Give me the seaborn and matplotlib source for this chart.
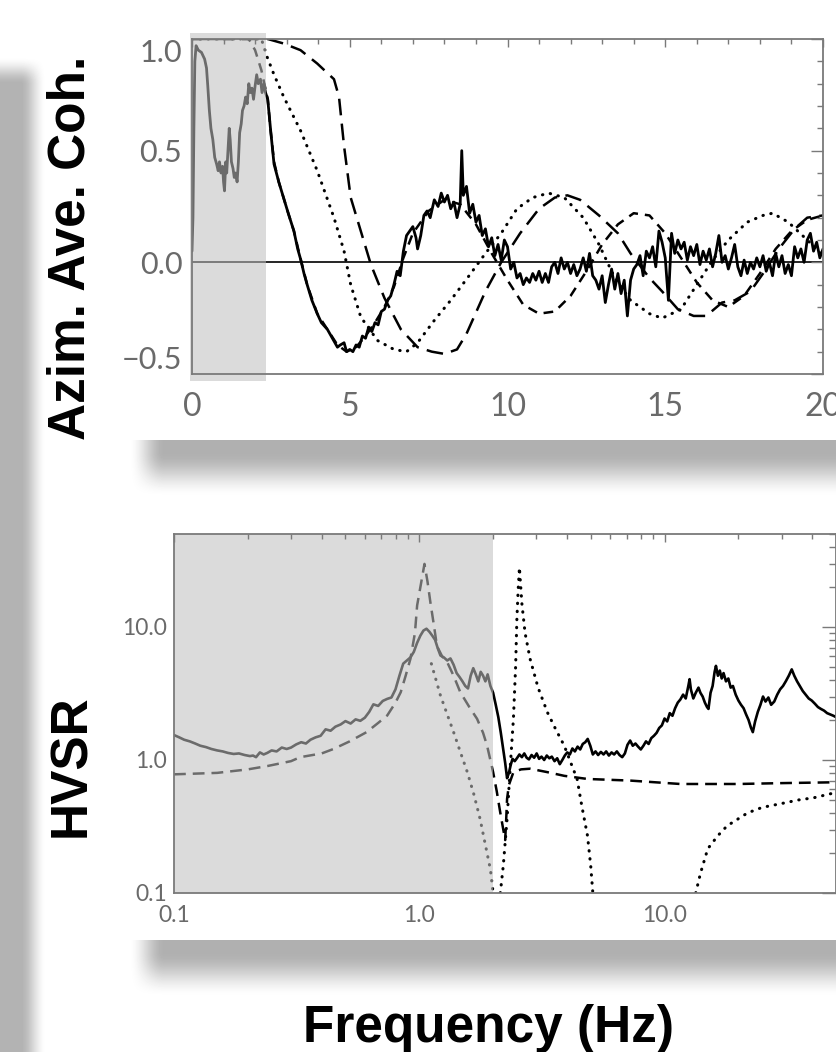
import numpy as np
import pandas as pd
import matplotlib
matplotlib.use('Agg')
import matplotlib.pyplot as plt
import seaborn as sns
from matplotlib import ticker, transforms
from matplotlib.patches import Rectangle

# ---- top panel: azimuthally averaged coherence vs frequency (Hz)
coh_obs_x = [0.00, 0.03, 0.06, 0.09, 0.13, 0.20, 0.30, 0.40, 0.46, 0.50, 0.55, 0.60, 0.66, 0.72,
             0.78, 0.83, 0.87, 0.92, 0.97, 1.00, 1.03, 1.07, 1.10, 1.14, 1.18, 1.21, 1.25, 1.30,
             1.34, 1.38, 1.43, 1.47, 1.51, 1.56, 1.60, 1.65, 1.70, 1.75, 1.80, 1.85, 1.90, 1.95,
             2.00, 2.05, 2.10, 2.17, 2.22, 2.28, 2.33, 2.40, 2.50, 2.60, 2.75, 2.90, 3.05, 3.23,
             3.35, 3.45, 3.55, 3.65, 3.80, 3.97, 4.10, 4.29, 4.45, 4.61, 4.70, 4.82, 4.90, 5.00,
             5.10, 5.20, 5.30, 5.40, 5.50, 5.60, 5.70, 5.80, 5.90, 6.00, 6.10, 6.20, 6.30, 6.40,
             6.50, 6.60, 6.70, 6.80, 6.90, 7.00, 7.10, 7.15, 7.25, 7.35, 7.45, 7.55, 7.68, 7.80,
             7.90, 8.00, 8.10, 8.20, 8.30, 8.40, 8.50, 8.55, 8.60, 8.70, 8.80, 8.90, 9.00, 9.10,
             9.20, 9.30, 9.40, 9.50, 9.60, 9.70, 9.80, 9.90, 10.0, 10.1, 10.2, 10.3, 10.4, 10.5,
             10.6, 10.7, 10.8, 10.9, 11.0, 11.1, 11.2, 11.3, 11.4, 11.5, 11.6, 11.7, 11.8, 11.9,
             12.0, 12.1, 12.2, 12.3, 12.4, 12.5, 12.6, 12.7, 12.8, 12.9, 13.0, 13.1, 13.2, 13.3,
             13.4, 13.5, 13.6, 13.7, 13.8, 13.9, 14.0, 14.1, 14.2, 14.3, 14.4, 14.5, 14.6, 14.7,
             14.8, 14.9, 15.0, 15.1, 15.2, 15.3, 15.4, 15.5, 15.6, 15.7, 15.8, 15.9, 16.0, 16.1,
             16.2, 16.3, 16.4, 16.5, 16.6, 16.7, 16.8, 16.9, 17.0, 17.1, 17.2, 17.3, 17.4, 17.5,
             17.6, 17.7, 17.8, 17.9, 18.0, 18.1, 18.2, 18.3, 18.4, 18.5, 18.6, 18.7, 18.8, 18.9,
             19.0, 19.1, 19.2, 19.3, 19.4, 19.5, 19.6, 19.7, 19.8, 19.9, 20.0]
coh_obs_y = [0.05, 0.20, 0.60, 0.90, 0.97, 0.95, 0.94, 0.91, 0.87, 0.79, 0.68, 0.60, 0.55, 0.47,
             0.44, 0.41, 0.45, 0.40, 0.43, 0.36, 0.32, 0.45, 0.40, 0.50, 0.60, 0.55, 0.45, 0.42,
             0.38, 0.40, 0.36, 0.45, 0.58, 0.62, 0.68, 0.70, 0.74, 0.71, 0.80, 0.76, 0.78, 0.73,
             0.79, 0.84, 0.80, 0.82, 0.76, 0.80, 0.76, 0.73, 0.58, 0.44, 0.36, 0.29, 0.22, 0.14,
             0.06, 0.01, -0.05, -0.10, -0.17, -0.23, -0.27, -0.30, -0.34, -0.38, -0.37, -0.36, -0.40, -0.39,
             -0.40, -0.37, -0.38, -0.33, -0.34, -0.29, -0.31, -0.27, -0.28, -0.22, -0.21, -0.17, -0.15, -0.10,
             -0.04, -0.06, 0.05, 0.12, 0.14, 0.16, 0.11, 0.06, 0.12, 0.21, 0.23, 0.20, 0.28, 0.25,
             0.31, 0.27, 0.30, 0.24, 0.27, 0.20, 0.26, 0.50, 0.30, 0.34, 0.22, 0.26, 0.18, 0.21,
             0.12, 0.15, 0.07, 0.11, 0.03, 0.08, 0.01, 0.10, 0.07, -0.03, 0.00, -0.07, -0.05, -0.10,
             -0.07, -0.09, -0.05, -0.08, -0.04, -0.09, -0.05, -0.09, -0.02, 0.00, -0.05, 0.02, -0.03, 0.00,
             -0.05, -0.01, -0.06, -0.03, 0.02, -0.04, 0.04, -0.06, -0.08, -0.12, -0.06, -0.18, -0.10, -0.03,
             -0.12, -0.05, -0.14, -0.08, -0.24, -0.08, -0.03, -0.01, 0.03, -0.06, 0.05, 0.02, 0.07, -0.02,
             0.14, 0.09, 0.02, -0.17, 0.13, 0.04, 0.10, 0.06, 0.09, 0.01, 0.07, 0.03, 0.08, -0.01,
             0.05, 0.01, 0.06, -0.02, 0.04, 0.12, 0.00, 0.03, -0.03, 0.02, 0.08, -0.02, -0.06, 0.01,
             -0.05, 0.00, -0.03, 0.02, -0.02, 0.03, -0.04, 0.00, -0.06, 0.04, -0.02, 0.03, -0.05, -0.01,
             -0.06, 0.07, 0.02, 0.06, 0.00, 0.10, 0.13, 0.05, 0.09, 0.02, 0.06]

coh_dot_x = [0.0, 1.0, 2.2, 2.38, 2.6, 2.91, 3.44, 3.97, 4.5, 4.82, 5.03, 5.35, 5.88, 6.4, 6.8,
             7.15, 7.68, 8.2, 8.73, 9.3, 9.8, 10.3, 10.8, 11.3, 11.8, 12.4, 12.9, 13.4, 13.9,
             14.5, 14.9, 15.5, 16.0, 16.5, 17.0, 17.6, 18.1, 18.4, 18.9, 19.5, 20.0]
coh_dot_y = [1.0, 1.0, 1.0, 0.92, 0.84, 0.74, 0.59, 0.41, 0.20, 0.05, -0.10, -0.245, -0.35, -0.39, -0.40,
             -0.36, -0.26, -0.17, -0.07, 0.04, 0.13, 0.24, 0.29, 0.31, 0.29, 0.20, 0.08, -0.07, -0.17,
             -0.23, -0.25, -0.21, -0.10, 0.01, 0.10, 0.18, 0.21, 0.22, 0.18, 0.10, 0.03]

coh_long_x = [0.0, 1.2, 2.4, 2.9, 3.44, 3.97, 4.5, 4.66, 4.82, 5.03, 5.35, 5.67, 6.1, 6.62, 7.15,
              7.6, 8.0, 8.4, 8.7, 9.3, 9.8, 10.4, 11.0, 11.5, 11.9, 12.3, 12.9, 13.5, 13.9, 14.5,
              14.9, 15.4, 15.9, 16.3, 16.8, 17.2, 17.7, 18.1, 18.6, 19.1, 19.5, 20.0]
coh_long_y = [1.0, 1.0, 1.0, 0.98, 0.95, 0.89, 0.82, 0.74, 0.52, 0.29, 0.14, -0.01, -0.16, -0.30, -0.38,
              -0.40, -0.41, -0.39, -0.32, -0.13, 0.00, 0.13, 0.24, 0.29, 0.30, 0.28, 0.21, 0.13, 0.04, -0.07,
              -0.13, -0.21, -0.24, -0.24, -0.18, -0.17, -0.13, -0.05, 0.06, 0.15, 0.20, 0.21]

coh_dash_x = [0.0, 1.8, 2.0, 2.2, 2.4, 2.5, 2.6, 2.75, 2.9, 3.05, 3.23, 3.45, 3.65, 3.97, 4.29,
              4.61, 4.9, 5.2, 5.5, 5.8, 6.1, 6.4, 6.7, 7.0, 7.5, 8.0, 8.5, 9.0, 9.5, 10.0, 10.5,
              11.0, 11.5, 12.0, 12.5, 13.0, 13.5, 14.0, 14.5, 15.0, 15.5, 16.0, 16.5, 17.0, 17.5,
              18.0, 18.5, 19.0, 19.5, 20.0]
coh_dash_y = [1.0, 1.0, 0.95, 0.86, 0.73, 0.58, 0.45, 0.36, 0.29, 0.22, 0.14, 0.01, -0.10, -0.23, -0.30,
              -0.37, -0.40, -0.38, -0.33, -0.27, -0.20, -0.11, 0.02, 0.13, 0.23, 0.28, 0.26, 0.17, 0.04,
              -0.08, -0.19, -0.23, -0.22, -0.15, -0.04, 0.08, 0.17, 0.22, 0.21, 0.13, 0.02, -0.09, -0.17,
              -0.20, -0.15, -0.05, 0.06, 0.14, 0.19, 0.21]

# ---- bottom panel: HVSR vs frequency (Hz), log-log
hv_obs_f = [0.100, 0.105, 0.110, 0.116, 0.122, 0.128, 0.135, 0.142, 0.150, 0.158, 0.166, 0.175, 0.184,
            0.194, 0.204, 0.210, 0.216, 0.224, 0.232, 0.240, 0.250, 0.262, 0.275, 0.288, 0.300, 0.315,
            0.330, 0.345, 0.360, 0.378, 0.396, 0.415, 0.435, 0.455, 0.478, 0.500, 0.525, 0.550, 0.575,
            0.600, 0.625, 0.650, 0.680, 0.710, 0.740, 0.770, 0.800, 0.830, 0.860, 0.890, 0.920, 0.950,
            0.980, 1.010, 1.040, 1.070, 1.100, 1.130, 1.160, 1.190, 1.220, 1.260, 1.300, 1.340, 1.380,
            1.420, 1.460, 1.500, 1.540, 1.580, 1.620, 1.660, 1.700, 1.740, 1.780, 1.820, 1.860, 1.900,
            1.950, 2.000, 2.050, 2.100, 2.150, 2.200, 2.240, 2.280, 2.320, 2.360, 2.400, 2.450, 2.500,
            2.560, 2.620, 2.680, 2.740, 2.800, 2.870, 2.940, 3.010, 3.080, 3.150, 3.230, 3.310, 3.390,
            3.470, 3.560, 3.650, 3.740, 3.830, 3.920, 4.010, 4.110, 4.210, 4.310, 4.420, 4.530, 4.640,
            4.750, 4.860, 4.980, 5.100, 5.230, 5.360, 5.500, 5.640, 5.780, 5.930, 6.080, 6.230, 6.390,
            6.550, 6.720, 6.890, 7.060, 7.240, 7.420, 7.610, 7.800, 8.000, 8.200, 8.400, 8.610, 8.830,
            9.050, 9.280, 9.510, 9.750, 10.00, 10.25, 10.50, 10.77, 11.04, 11.32, 11.60, 11.90, 12.20,
            12.50, 12.65, 12.80, 13.10, 13.40, 13.75, 14.00, 14.30, 14.60, 14.90, 15.10, 15.40, 15.70,
            16.00, 16.20, 16.50, 16.80, 17.10, 17.40, 17.80, 18.20, 18.60, 19.00, 19.50, 20.00, 20.50,
            21.00, 21.50, 22.00, 22.50, 22.90, 23.40, 24.00, 24.60, 25.20, 25.80, 26.50, 27.20, 28.00,
            28.80, 29.60, 30.40, 31.20, 32.10, 33.00, 33.80, 34.70, 35.60, 36.60, 37.60, 38.70, 39.80,
            41.00, 42.20, 43.40, 44.70, 46.00, 47.40, 48.80, 50.00]
hv_obs_v = [1.54, 1.48, 1.42, 1.38, 1.33, 1.28, 1.25, 1.21, 1.18, 1.16, 1.13, 1.11, 1.12,
            1.09, 1.07, 1.08, 1.05, 1.14, 1.10, 1.13, 1.18, 1.16, 1.24, 1.21, 1.24, 1.31,
            1.36, 1.33, 1.42, 1.48, 1.52, 1.70, 1.66, 1.78, 1.85, 1.96, 1.88, 2.02, 1.97,
            2.08, 2.30, 2.62, 2.55, 2.78, 2.88, 2.95, 3.40, 4.30, 5.30, 5.60, 5.90, 6.50,
            7.60, 8.60, 9.40, 9.70, 9.20, 8.60, 8.00, 6.90, 6.10, 5.90, 5.60, 5.80, 5.20,
            4.50, 4.20, 3.90, 3.60, 3.45, 4.30, 4.90, 4.40, 3.90, 4.60, 4.30, 3.90, 4.40,
            3.60, 3.20, 2.60, 2.10, 1.60, 1.20, 0.95, 0.73, 0.80, 0.92, 1.02, 0.98, 1.03,
            1.10, 1.05, 1.12, 1.04, 1.01, 1.09, 1.04, 1.12, 1.02, 1.06, 1.00, 1.08, 1.03,
            1.06, 0.98, 1.03, 0.93, 1.00, 1.08, 1.14, 1.10, 1.22, 1.16, 1.26, 1.20, 1.32,
            1.36, 1.44, 1.28, 1.10, 1.16, 1.09, 1.15, 1.10, 1.16, 1.08, 1.14, 1.10, 1.16,
            1.09, 1.05, 1.12, 1.30, 1.40, 1.28, 1.33, 1.26, 1.20, 1.28, 1.38, 1.32, 1.46,
            1.52, 1.60, 1.74, 1.82, 2.05, 1.95, 2.25, 2.15, 2.45, 2.70, 2.85, 3.10, 2.90,
            3.60, 4.05, 3.40, 2.90, 3.20, 3.50, 3.20, 3.00, 2.70, 2.50, 2.42, 3.20, 3.60,
            4.60, 5.10, 4.30, 4.70, 4.10, 4.50, 3.90, 4.10, 3.50, 3.60, 3.10, 2.80, 2.60,
            2.45, 2.20, 2.00, 1.75, 1.62, 1.95, 2.30, 2.60, 3.00, 2.75, 2.95, 2.60, 2.75,
            3.10, 3.40, 3.60, 3.90, 4.30, 4.80, 4.30, 3.90, 3.60, 3.30, 3.10, 2.90, 2.80,
            2.65, 2.50, 2.42, 2.35, 2.25, 2.20, 2.15, 2.10]

hv_dash_f = [0.10, 0.15, 0.20, 0.24, 0.30, 0.327, 0.40, 0.447, 0.52, 0.61, 0.68, 0.74, 0.80, 0.84,
             0.88, 0.92, 0.96, 0.98, 1.02, 1.05, 1.08, 1.11, 1.15, 1.18, 1.24, 1.30, 1.38, 1.47,
             1.60, 1.72, 1.82, 1.89, 2.00, 2.07, 2.14, 2.20, 2.24, 2.26, 2.28, 2.32, 2.42, 2.60,
             2.83, 3.33, 3.90, 4.85, 7.25, 11.6, 20.0, 30.0, 50.0]
hv_dash_v = [0.78, 0.80, 0.85, 0.90, 0.98, 1.05, 1.12, 1.21, 1.38, 1.62, 1.90, 2.16, 2.70, 3.23,
             4.30, 5.75, 9.00, 14.5, 22.0, 29.8, 22.0, 15.3, 10.0, 7.20, 6.00, 5.43, 4.30, 3.23,
             2.50, 2.04, 1.60, 1.28, 0.81, 0.58, 0.40, 0.30, 0.25, 0.35, 0.51, 0.65, 0.81, 0.85,
             0.86, 0.81, 0.76, 0.72, 0.70, 0.66, 0.66, 0.67, 0.68]

hv_dot_f = [1.12, 1.17, 1.22, 1.30, 1.38, 1.47, 1.57, 1.67, 1.77, 1.86, 1.95, 2.00,
            2.14, 2.20, 2.28, 2.35, 2.42, 2.47, 2.50, 2.53, 2.56, 2.62, 2.70, 2.83, 3.05, 3.33,
            3.60, 3.90, 4.15, 4.40, 4.60, 4.85, 5.00, 5.10,
            13.4, 14.0, 15.0, 16.5, 18.0, 21.8, 25.0, 29.9, 35.0, 40.6, 50.0]
hv_dot_v = [5.3, 4.0, 3.05, 2.2, 1.62, 1.15, 0.81, 0.55, 0.36, 0.23, 0.15, 0.10,
            0.10, 0.16, 0.36, 0.90, 2.04, 5.0, 11.5, 19.0, 28.0, 15.0, 9.0, 5.75, 3.5, 2.28,
            1.70, 1.28, 0.95, 0.72, 0.45, 0.27, 0.16, 0.10,
            0.10, 0.14, 0.215, 0.27, 0.32, 0.40, 0.44, 0.47, 0.50, 0.52, 0.57]
hv_dot_branch = [1] * 12 + [2] * 22 + [3] * 11

shade_top = 2.36   # Hz, shaded band in top panel
shade_bot = 2.0    # Hz, shaded band in bottom panel

sns.set_style('white')
plt.rcParams['font.family'] = ['Lato', 'DejaVu Sans']
plt.rcParams['lines.scale_dashes'] = False

W, H = 836, 1052
fig = plt.figure(figsize=(W / 100, H / 100), dpi=100)

# soft slide shadows behind the panels
def ramp(t):
    t = np.clip(t, 0, 1)
    return t * t * (3 - 2 * t)

yy, xx = np.mgrid[0:H, 0:W]
shadow = 0.30 * ramp((46 - xx) / 26) * ramp((yy - 56) / 28)
for top in (440, 940):
    band = np.where(yy < top, 0, ramp(1 - (yy - top - 12) / 45)) * ramp((xx - 128) / 36)
    shadow = np.maximum(shadow, 0.31 * band)
bg = fig.add_axes([0, 0, 1, 1], zorder=-10)
bg.imshow(1 - shadow, cmap='gray', vmin=0, vmax=1, extent=(0, W, H, 0), aspect='auto')
bg.set_xlim(0, W)
bg.set_ylim(H, 0)
bg.axis('off')

frame_col = '#7a7a7a'
label_col = '#6a6a6a'
overlay = dict(facecolor='#c0c0c0', alpha=0.56, edgecolor='none', zorder=2.2)
dot = dict(linestyle=(0, (0.3, 5.5)), dash_capstyle='round', lw=2.2)

ax1 = fig.add_axes([192 / W, 1 - 374 / H, 631 / W, 335 / H])
ax2 = fig.add_axes([174 / W, 1 - 893 / H, 662 / W, 359 / H])

# ---- top panel
ax1.axhline(0, color='black', lw=1.2, zorder=1)
sns.lineplot(x=coh_dash_x, y=coh_dash_y, ax=ax1, sort=False, estimator=None, color='black', lw=1.8,
             linestyle=(0, (7, 5)))
sns.lineplot(x=coh_obs_x, y=coh_obs_y, ax=ax1, sort=False, estimator=None, color='black', lw=2.0)
sns.lineplot(x=coh_long_x, y=coh_long_y, ax=ax1, sort=False, estimator=None, color='black', lw=1.8,
             linestyle=(0, (12, 6)))
sns.lineplot(x=coh_dot_x, y=coh_dot_y, ax=ax1, sort=False, estimator=None, color='black', **dot)
blend = transforms.blended_transform_factory(ax1.transData, ax1.transAxes)
ax1.add_patch(Rectangle((-0.065, -0.021), shade_top + 0.065, 1.039, transform=blend,
                        clip_on=False, **overlay))
ax1.set_xlim(0, 20)
ax1.set_ylim(-0.5, 1.0)
ax1.set_xticks([0, 5, 10, 15, 20])
ax1.set_xticklabels(['0', '5', '10', '15', '20'])
ax1.xaxis.set_minor_locator(ticker.MultipleLocator(1))
ax1.set_yticks([-0.5, 0.0, 0.5, 1.0])
ax1.set_yticklabels(['\u22120.5', '0.0', '0.5', '1.0'])
ax1.yaxis.set_minor_locator(ticker.MultipleLocator(0.1))
ax1.tick_params(axis='x', which='major', length=6, pad=13, labelsize=23)
ax1.tick_params(axis='x', which='minor', length=3.6)
ax1.tick_params(axis='y', which='major', length=8.6, pad=7, labelsize=22)
ax1.tick_params(axis='y', which='minor', length=4.3)
yt = ax1.yaxis.get_major_ticks()
yt[0].label1.set_va('bottom')
yt[-1].label1.set_va('top')

# ---- bottom panel
ax2.set_xscale('log')
ax2.set_yscale('log')
sns.lineplot(x=hv_obs_f, y=hv_obs_v, ax=ax2, sort=False, estimator=None, color='black', lw=1.9)
sns.lineplot(x=hv_dash_f, y=hv_dash_v, ax=ax2, sort=False, estimator=None, color='black', lw=1.8,
             linestyle=(0, (8.5, 5)))
dots = pd.DataFrame({'f': hv_dot_f, 'v': hv_dot_v, 'branch': hv_dot_branch})
sns.lineplot(data=dots, x='f', y='v', units='branch', ax=ax2, sort=False, estimator=None,
             color='black', **dot)
ax2.axvspan(0.1, shade_bot, **overlay)
ax2.set_xlim(0.1, 50)
ax2.set_ylim(0.1, 50)
fmt = ticker.FuncFormatter(lambda v, _: f'{v:.1f}')
for axis in (ax2.xaxis, ax2.yaxis):
    axis.set_major_locator(ticker.LogLocator(base=10))
    axis.set_minor_locator(ticker.LogLocator(base=10, subs=np.arange(2, 10)))
    axis.set_major_formatter(fmt)
    axis.set_minor_formatter(ticker.NullFormatter())
ax2.tick_params(axis='x', which='major', length=6, pad=9, labelsize=16.5)
ax2.tick_params(axis='x', which='minor', length=3.6)
ax2.tick_params(axis='y', which='major', length=10, pad=5, labelsize=16.5)
ax2.tick_params(axis='y', which='minor', length=5)

for ax in (ax1, ax2):
    ax.set_xlabel('')
    ax.set_ylabel('')
    ax.set_axisbelow(False)
    ax.tick_params(which='both', direction='in', top=True, right=True,
                   color=frame_col, labelcolor=label_col, width=1)
    for s in ax.spines.values():
        s.set_color(frame_col)
        s.set_linewidth(1.3)

bold = dict(fontsize=37, fontweight='bold', family=['Liberation Sans', 'DejaVu Sans'], color='black')
fig.text(71 / W, 1 - 248 / H, 'Azim. Ave. Coh.', rotation=90, ha='center', va='center', **bold)
fig.text(72 / W, 1 - 766 / H, 'HVSR', rotation=90, ha='center', va='center', **bold)
fig.text(488 / W, 1 - 1042 / H, 'Frequency (Hz)', ha='center', va='baseline', **bold)

fig.savefig('out.png', dpi=100)
